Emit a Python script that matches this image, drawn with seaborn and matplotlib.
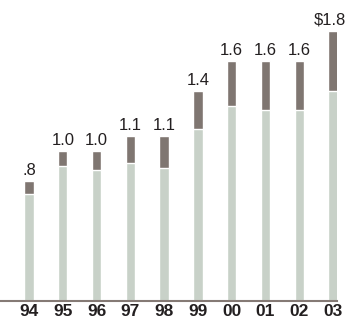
import matplotlib
matplotlib.use("Agg")
import matplotlib.pyplot as plt
import seaborn as sns
import pandas as pd

years = ["94", "95", "96", "97", "98", "99", "00", "01", "02", "03"]
totals = [0.8, 1.0, 1.0, 1.1, 1.1, 1.4, 1.6, 1.6, 1.6, 1.8]
lower = [0.716, 0.90, 0.87, 0.916, 0.889, 1.143, 1.298, 1.271, 1.271, 1.398]
labels = [".8", "1.0", "1.0", "1.1", "1.1", "1.4", "1.6", "1.6", "1.6", "$1.8"]

light = "#c8d1c8"
dark = "#7f7671"
line_c = "#857a75"
text_c = "#231f20"

sns.set_theme(style="white")
plt.rcParams["font.family"] = ["Liberation Sans", "DejaVu Sans"]

df = pd.DataFrame({"year": years, "total": totals, "lower": lower})

fig = plt.figure(figsize=(3.47, 3.22), dpi=100)
ax = fig.add_axes([0, 21.0 / 322, 337 / 347, 1 - 21.0 / 322])

sns.barplot(data=df, x="year", y="total", color=dark, width=0.275,
            saturation=1, ax=ax, order=years)
sns.barplot(data=df, x="year", y="lower", color=light, width=0.275,
            saturation=1, ax=ax, order=years)

ax.set_xlim(-0.86, 9.12)
ax.set_ylim(0, 2.005)

for i, (t, lab) in enumerate(zip(totals, labels)):
    if lab.startswith("$"):
        ax.text(i + 0.4, t + 0.02, lab, ha="right", va="bottom",
                fontsize=12, color=text_c)
    else:
        ax.text(i, t + 0.02, lab, ha="center", va="bottom", fontsize=12,
                color=text_c)

for s in ["top", "right", "left"]:
    ax.spines[s].set_visible(False)
ax.spines["bottom"].set_color(line_c)
ax.spines["bottom"].set_linewidth(1.5)

ax.set_yticks([])
ax.set_xlabel("")
ax.set_ylabel("")
ax.tick_params(axis="x", length=0, pad=2.5)
for tl in ax.get_xticklabels():
    tl.set_fontweight("bold")
    tl.set_fontsize(12.5)
    tl.set_color(text_c)

fig.savefig("out.png", dpi=100)
